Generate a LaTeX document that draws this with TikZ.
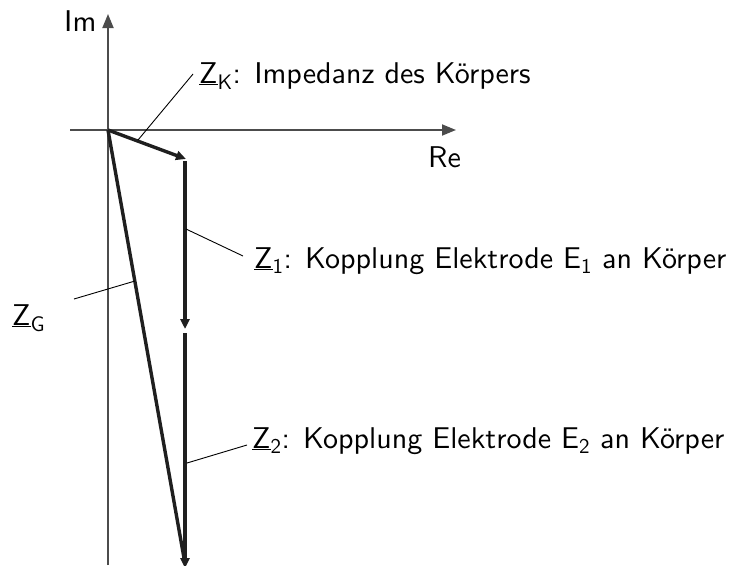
\documentclass[tikz,border=0pt]{standalone}
\usepackage{fontspec}
\setsansfont{lmsans10-regular.otf}
\renewcommand{\familydefault}{\sfdefault}
\usetikzlibrary{arrows.meta}
\begin{document}
\begin{tikzpicture}[x=1pt,y=-1pt,
  axis/.style={draw=black!70,line width=1.8pt,-{Triangle[length=14pt,width=11pt]}},
  vec/.style={draw=black!88,line width=3.4pt,-{Triangle[length=10pt,width=9pt]}},
  vecnoarr/.style={draw=black!88,line width=3.4pt},
  lead/.style={draw=black,line width=0.9pt},
  lbl/.style={inner sep=0pt,anchor=base west,font=\sffamily\fontsize{30}{34}\selectfont}]
\useasboundingbox (0,0) rectangle (741,565);
% coordinates
\coordinate (O) at (108,130);
\coordinate (ybot) at (108,565);
\coordinate (ytop) at (108,14);
\coordinate (xl) at (70,130);
\coordinate (xr) at (456,130);
\coordinate (K) at (186,159);
\coordinate (A1) at (185,161);
\coordinate (B1) at (185,329);
\coordinate (A2) at (185,333);
\coordinate (B2) at (185,568);
\coordinate (G) at (184,558);
% axes
\draw[axis] (ybot) -- (ytop);
\draw[axis] (xl) -- (xr);
\node[lbl] (im) at (64,31) {Im};
\node[lbl] (re) at (428,167) {Re};
% vectors
\draw[vecnoarr] (O) -- (G);
\draw[vec] (O) -- (K);
\draw[vec] (A1) -- (B1);
\draw[vec] (A2) -- (B2);
% labels
\node[lbl] (tK) at (199,83) {\underline{Z}\textsubscript{K}: Impedanz des Körpers};
\node[lbl] (t1) at (254,268) {\underline{Z}\textsubscript{1}: Kopplung Elektrode E\textsubscript{1} an Körper};
\node[lbl] (t2) at (252,448) {\underline{Z}\textsubscript{2}: Kopplung Elektrode E\textsubscript{2} an Körper};
\node[lbl] (tG) at (12,325) {\underline{Z}\textsubscript{G}};
% leaders
\coordinate (lK1) at (138,140); \coordinate (lK2) at (193,74);
\coordinate (l11) at (186,229); \coordinate (l12) at (243,256);
\coordinate (l21) at (187,463); \coordinate (l22) at (247,445);
\coordinate (lG1) at (74,299);  \coordinate (lG2) at (135,281);
\draw[lead] (lK1) -- (lK2);
\draw[lead] (l11) -- (l12);
\draw[lead] (l21) -- (l22);
\draw[lead] (lG1) -- (lG2);
\end{tikzpicture}
\end{document}
